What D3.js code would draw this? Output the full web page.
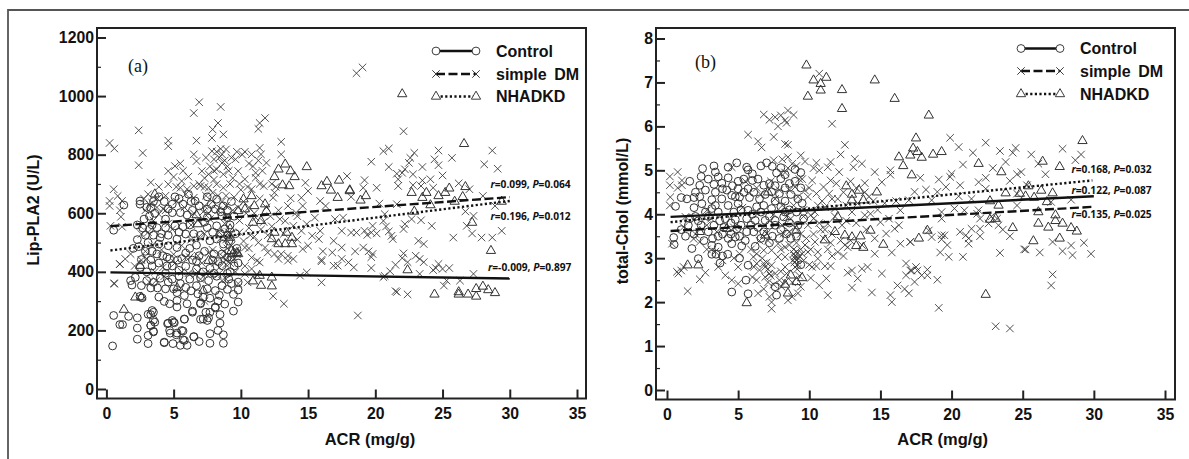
<!DOCTYPE html>
<html>
<head>
<meta charset="utf-8">
<script src="https://cdn.jsdelivr.net/npm/d3@7"></script>
<style>
html, body { margin: 0; padding: 0; background: #fff; }
svg { display: block; }
</style>
</head>
<body>
<svg id="chart" width="1189" height="459"></svg>
<script>
// values: [ACR, y]
const aControl = [[0.46,147],[0.54,251],[1,220],[1.2,220],[1.65,248],[2.3,243],[2.3,208],[2.3,170],[3.1,255],[3.4,268],[3.6,228],[3.3,217],[3.5,195],[3.1,183],[3.1,155],[4.3,158],[4.9,234],[4.55,223],[4.7,200],[4.75,191],[5.05,226],[4.95,155],[5.25,191],[5.7,198],[5.8,238],[5.5,149],[5.8,166],[6,149],[6.5,178],[6.4,262],[7,238],[7.5,234],[7.7,262],[8.1,277],[1.3,628],[2.5,642],[2.5,631],[3.3,619],[3.9,656],[5.1,656],[6.1,665],[6.6,642],[7.5,656],[8.2,648],[8.7,625],[2.8,580],[4.4,580],[4.9,631],[5.7,631],[6.4,610],[4.9,602],[5.5,602],[6,594],[7.5,614],[8.1,614],[8.6,591],[7.5,585],[0.54,542],[3.76,551],[4.4,551],[5.1,557],[5.7,554],[7.5,551],[8.2,557],[8.8,546],[2.3,510],[3.1,500],[4,517],[4.6,489],[5.25,512],[5.9,529],[6.7,491],[7.7,506],[8.2,512],[8.7,495],[2.4,486],[2.6,442],[3.76,461],[5.25,483],[5.9,464],[6.9,455],[8,461],[8.6,461],[6.7,436],[2.5,415],[5.9,419],[6.7,410],[7.7,412],[8.6,421],[2.15,381],[1.8,370],[1.9,355],[2.6,353],[3.5,364],[4,378],[4.4,342],[3.9,314],[4.3,299],[4.7,291],[5,342],[5.25,329],[5.25,302],[5.25,280],[5.8,319],[6,291],[5.9,347],[7,291],[7.2,313],[6.7,353],[7.5,342],[8.1,336],[8.6,353],[2.65,311],[2.5,316],[9.45,266],[9.8,297],[9.8,338],[9.45,323],[8.45,254],[8.45,225],[8.7,156],[8.7,185],[8.3,200],[8.1,280],[7.7,156],[7.7,189],[7.6,243],[6.9,162],[7.2,239],[7.4,262],[7,294],[6.4,266],[6.5,179],[5.6,200],[5.7,168],[5.2,185],[5.8,239],[5,228],[4.6,225],[4.3,160],[3.3,254],[3.5,262],[3.5,235],[3.3,217],[3.5,197],[9.3,640],[9,610],[9.5,590],[9.2,560],[9.6,530],[9.1,505],[9.7,480],[9.3,450],[9.8,430],[9.2,400],[9.8,365],[9.1,375],[3.2,590],[3.6,600],[3.2,545],[2.9,525],[3.5,525],[3.9,495],[3.4,470],[3.9,430],[4.5,450],[4.9,420],[5.3,440],[4.4,395],[4.9,375],[5.4,385],[6.2,375],[7,380],[7.6,370],[8.2,385],
[3,620],[3.5,640],[4.3,640],[4.6,615],[5.4,650],[6.3,640],[6.9,625],[7.8,630],[8.5,605],[9,585],[2.3,560],[2.7,550],[3.4,560],[4.1,530],[4.6,525],[5.4,535],[6.2,560],[6.5,530],[7,525],[7.3,570],[7.9,535],[8.5,530],[9,525],[2,480],[2.9,470],[3.3,440],[4.2,455],[4.7,445],[5.6,445],[6.2,480],[7.3,470],[7.9,440],[8.3,435],[9,450],[9.5,420],[3,400],[3.4,420],[4.5,420],[5.4,405],[6.4,440],[7.2,400],[8,395],[9,395],[3,370],[3.3,345],[3.8,345],[4.6,365],[5.5,360],[6.3,335],[6.8,325],[7.7,310],[8.4,320],[9,340],[9.3,360],[8.8,290],[8.3,300]];
const aSimpleDM = [[18.6,1078],[19.05,1098],[22.1,880],[20.6,812],[21,821],[19.7,776],[21,758],[21.6,735],[22,738],[21.7,716],[21.7,693],[22.6,789],[22.5,772],[22.9,806],[22.2,750],[23.5,758],[22.8,733],[24.4,784],[24.7,814],[24.7,764],[25.7,789],[25,729],[28.1,767],[28.7,814],[29.1,752],[23.5,712],[24.1,716],[22.8,696],[23.4,693],[26.2,702],[27,682],[24.3,687],[19.2,713],[19.1,687],[20.1,687],[18.2,656],[20.3,633],[21.6,631],[28,659],[28.9,625],[26.7,606],[27.3,591],[26.8,557],[27.2,531],[25.8,517],[27.9,517],[28.7,517],[29.4,540],[24.2,557],[23.4,576],[22.7,580],[22.2,563],[22.1,546],[20.7,597],[20.6,574],[20.8,555],[19.8,557],[19.7,534],[19.2,540],[18.6,534],[20.1,531],[19.4,526],[21,538],[21.2,523],[21.3,512],[23.2,506],[23.6,495],[18.5,470],[19.1,483],[19.5,470],[19.8,461],[19.7,450],[18.4,415],[19.7,413],[22.1,463],[22,447],[23,455],[23.3,444],[23.6,433],[21.5,424],[21.1,402],[20.6,382],[22.4,433],[23.3,393],[24.3,406],[24.7,427],[25,410],[25.5,413],[24.5,413],[27.3,393],[26.3,370],[25.3,370],[25.1,353],[21.6,331],[22.4,323],[18.7,251],
[0.24,840],[0.59,821],[2.4,883],[2.7,806],[2.4,764],[4.6,848],[4.6,829],[6.5,942],[6.9,979],[8.5,963],[8.3,908],[7.9,886],[7.85,857],[8.7,869],[6.7,848],[6.5,801],[6.7,778],[5.1,761],[4.6,744],[5,724],[4.6,699],[0.54,682],[0.84,659],[0.24,642],[0.24,625],[1.16,642],[1,610],[1.08,588],[3.1,665],[3.4,636],[3.76,620],[3.9,597],[0.3,557],[1.16,554],[2.5,557],[2.6,529],[1.8,461],[1.4,444],[1,427],[0.59,359],[5.5,687],[6,682],[6.5,693],[7.1,744],[7.6,733],[7.85,812],[8,784],[8.2,750],[8.6,801],[8.6,772],[8.7,733],[8.2,699],[8.7,687],[7.6,687],[7,693],[6.5,653],
[11.8,925],[11.4,908],[11.3,888],[13,844],[13,801],[10.3,810],[10.8,801],[11.4,823],[11.5,801],[11.9,772],[9.6,784],[8.9,818],[11.1,738],[11.1,721],[9.8,744],[10.3,716],[11.7,693],[10.8,682],[17.9,727],[14.8,704],[15,676],[14.5,653],[13.7,651],[12.5,670],[12.4,653],[14.6,625],[15.9,642],[16.3,625],[12.9,580],[13.3,574],[14.1,602],[15.5,585],[14.9,563],[13.9,557],[17,580],[17.6,585],[17.5,540],[18.2,534],[16.9,506],[17.5,483],[15.3,523],[15.9,540],[15.8,512],[15,489],[14.6,478],[16.1,470],[16.8,466],[17.5,444],[16.9,421],[17.2,421],[18,432],[16,436],[16,441],[12,466],[12.5,461],[13,461],[13.5,455],[13.9,444],[12.8,444],[13.5,438],[10.8,449],[11.2,438],[11.4,432],[14.4,387],[14.9,398],[16,364],[12.4,317],[13.2,291],[10.3,483],[11.8,483],[10.3,393],[9.6,472],[10.5,364],[0.57,361],[1,426],[7.3,300],[20.7,386],[21.5,334],
[3.3,705],[3.9,690],[4.4,660],[2.9,610],[3.5,575],[4.2,615],[5.2,640],[5.8,620],[6.3,560],[7.3,625],[7.9,640],[8.3,610],[8.9,660],[9.2,700],[9.5,655],[10,680],[10.2,640],[10.6,620],[11,600],[11.4,650],[11.9,620],[12.2,590],[9.9,575],[10.6,550],[11,520],[11.5,545],[12,525],[10.2,505],[8.9,590],[8.4,535],[7.3,530],[6.8,575],[6.2,450],[5.6,490],[4.9,545],[4.1,475],[3.4,490],[3,445],[3.6,400],[4.2,415],[5,460],[6.1,395],[7.1,430],[7.9,475],[8.9,440],[9.1,535],[9.4,610],[8.5,515],[8.7,470],[9,480],[9.3,490],[9.5,445],[8.3,390],[8.9,375],[6.6,390],[6.8,400],[7,375],[7.4,395],[5.5,770],[8.2,810],[9.1,745],[9.4,720],[8,715],[7.4,790],[7.4,660],[6.1,725],[5.7,745],[7.3,720],[8.9,625],[7.6,600],[6.5,600],[4.6,565],[3.1,535],
[6.9,700],[7.3,690],[7.7,760],[8,745],[8.4,790],[8.5,820],[8.8,780],[9,760],[9.3,790],[9.7,810],[10.1,800],[10.6,770],[10.9,760],[11.3,780],[11.6,745],[9.9,700],[10.5,690],[11.4,700],[12.3,700],[12.6,690],[8.3,660],[7.9,670],[8.6,640],[9.8,620],[10.4,600],[11.1,585],[11.7,570],[12.3,555],[12.8,610],[13.5,625],[14.2,590],[13.2,530],[14.5,540],[14.2,510],[10.6,480],[11.3,500],[10.7,525],[12.6,500],[9.9,535],[9.1,590],[8.8,565],[7.7,580],[7.2,605],[5.9,665],[5.2,690],[5.6,710],[4.4,610],[3.8,650],[2.8,650],[3.2,630],[2.9,470],[2.6,440],[2.1,420],[3.2,365],[3.7,370],[4.3,385],[5.6,400],[6.8,455],[7.7,395],[8.1,430],[8.4,415],[8.6,370],[9.6,400],[10.3,420],[10.8,410],[11.2,390],[9.8,360],[5.9,450],[5.1,430],[6.3,510],[6.9,520],[7.6,465],[8.9,510],[9.3,515],[9.1,455],[9.7,460],[8.7,450],[8.9,425],[9.2,430]];
const aNhadkd = [[22,1007],[26.6,837],[18.1,676],[18.9,644],[19.3,659],[22.7,670],[23.8,670],[23.5,653],[24.7,659],[25.2,670],[25.5,685],[26.7,690],[24.1,628],[25.9,640],[26.5,656],[29.4,640],[22.9,606],[27.2,568],[28.6,472],[22.4,406],[24.4,323],[26.2,331],[26.2,323],[26.9,323],[27.5,316],[27.5,342],[28,350],[28.4,338],[28.9,328],
[14.9,758],[12.8,750],[13.3,767],[13.7,744],[12.5,724],[14,724],[13.1,696],[13.6,693],[16,693],[16.4,708],[16.7,678],[17.3,712],[17.2,653],[18.1,679],[10.8,659],[11,625],[11.8,631],[11.9,608],[10.9,568],[11.5,574],[9.8,608],[10.3,614],[10.2,648],[12.5,534],[13.4,534],[13.8,517],[12.3,512],[12.8,495],[13.3,495],[13.8,495],[9.2,546],[9.2,517],[9.4,461],[9.8,461],[11.4,387],[10.9,368],[11.5,353],[12.3,381],[12.3,351],[9.3,472],[1.3,271],[2.15,313],[2.6,313],[3.6,665],[6.7,594],[6.8,563],[7.2,336],[7.6,438],[2.5,421],[5.26,345],[9.7,465]];

const bControl = [[1.6,4.75],[1,4.38],[0.6,4.18],[2.5,5.04],[3.3,5.1],[3.4,4.96],[2.4,4.86],[4.3,5.07],[4.9,5.17],[5.6,5.07],[5.7,5.01],[6.6,5.1],[7,5.17],[7.4,5.09],[8,5.06],[7.7,4.94],[4.3,4.83],[5,4.75],[3.3,4.68],[2.3,4.66],[1.9,4.38],[2.7,4.55],[3.85,4.71],[6,4.92],[6,4.77],[6.8,4.66],[8,4.81],[7.2,4.7],[3.15,4.33],[3.9,4.58],[5,4.58],[5.7,4.58],[2.45,4.24],[3.15,4.13],[3.85,4.35],[4.55,4.43],[5.1,4.39],[5.8,4.38],[6.5,4.35],[7.35,4.51],[7.9,4.47],[3.6,4.05],[4.3,4.2],[5,4.24],[5.7,4.09],[6.3,4.17],[6.8,4.2],[7.35,4.13],[8,4.17],[4.1,3.9],[4.8,3.88],[5.6,3.9],[6.2,3.86],[6.9,3.86],[7.6,3.86],[8.2,3.94],[3.3,3.75],[4,3.7],[4.9,3.67],[5.6,3.6],[6.1,3.6],[6.8,3.6],[7.6,3.75],[1.3,3.5],[0.47,3.47],[0.5,3.31],[1.75,3.22],[2.2,2.99],[3.15,3.29],[3.15,3.09],[3.45,3.09],[4.27,3.09],[3.73,2.89],[4.55,3.33],[5.25,3.28],[6.2,3.27],[5.1,3],[5.7,2.84],[5.55,2.5],[4.55,2.23],[5.7,2.19],[7.6,2.35],[7.7,2.16],[4.8,3.48],[8.3,4.9],[8.6,4.7],[9,5.02],[9,4.75],[9.4,4.95],[9.4,4.6],[8.7,4.45],[9.2,4.35],[8.6,4.1],[9.1,4.05],[9.5,4.25],[8.6,3.8],[9.2,3.75],[9.6,3.9],[8.7,3.45],[9.1,3.5],[9.4,2.85],[8.4,3.55],[7.2,3.35],[7.9,3.45],[2.4,3.75],[2.9,3.6],[3.6,3.5],[2.9,3.95],[2,3.95],[1.6,3.9],[4.3,3.45],[5.1,3.5],
[2,4.5],[2.9,4.8],[3.6,4.85],[4.6,4.65],[5.4,4.8],[6.4,4.8],[7.6,4.65],[8.3,4.6],[1.4,4.35],[2.3,4.4],[3.4,4.5],[4.2,4.55],[4.8,4.4],[5.4,4.5],[6.1,4.5],[6.9,4.45],[7.6,4.3],[8.3,4.3],[1.9,4.15],[2.7,4.05],[3.4,4.2],[4.7,4.05],[5.2,4.1],[6,4],[6.6,4.05],[7.2,3.95],[8.3,4.05],[1.5,3.75],[2.2,3.85],[3.7,3.85],[4.5,3.8],[5.2,3.75],[5.9,3.75],[6.4,3.7],[7.2,3.75],[8,3.65],[1,3.65],[1.9,3.55],[3.2,3.45],[3.9,3.55],[4.5,3.55],[5.5,3.4],[6.6,3.45],[7.4,3.5],[2.6,3.4],[3.6,3.25],[3.9,3.05]];
const bSimpleDM = [[19.9,5.74],[20.5,5.53],[22.4,5.63],[21.5,5.4],[23.4,5.44],[24.3,5.4],[24.5,5.51],[25.6,5.36],[27.8,5.49],[29.1,5.36],[28.7,5.23],[23.8,5.19],[26.1,5.15],[20.8,5.13],[22.9,5.05],[26.6,4.91],[24.9,4.96],[24.6,4.91],[20,4.92],[19.9,4.85],[17.8,4.83],[22.4,4.83],[21.9,4.73],[19.1,4.79],[20.6,4.66],[19.6,4.62],[24.1,4.76],[25.3,4.66],[22.4,4.58],[18.2,4.56],[19,4.51],[17.4,4.51],[20.5,4.41],[24.6,4.47],[17,4.32],[18.6,4.32],[21.4,4.35],[20.2,4.13],[20.9,4.09],[19.3,4.05],[19.3,3.9],[21.9,4.09],[21.8,4.01],[22,3.9],[22.8,3.95],[23.2,3.9],[22.6,3.79],[23.3,3.75],[23.6,3.65],[24.1,3.5],[24.6,4.2],[28.4,4.33],[27,4.28],[18.4,3.63],[18.6,3.48],[19.3,3.52],[19.5,3.52],[19.3,3.43],[20.6,3.6],[21,3.52],[21.2,3.45],[21.2,3.33],[21.4,3.67],[22,3.67],[22,3.5],[19.7,3.3],[19.2,3.13],[19.8,3.03],[20.8,3.03],[23.4,3.12],[17.1,3.37],[25.1,3.2],[25.2,3.2],[26.2,3.13],[27.1,3.37],[27.8,3.16],[28.4,3.29],[28.5,3.07],[29.3,3.35],[29.8,3.1],[17.5,2.8],[17.1,2.72],[17.6,2.72],[18.3,2.74],[17.9,2.61],[18.3,2.61],[17.4,2.46],[19,2.51],[17,2.2],[27.1,2.63],[27,2.38],[19.1,1.87],[23.1,1.45],[24.1,1.4],
[10.7,7.2],[8.5,6.36],[8.9,6.26],[8.4,6.08],[11.6,6.06],[12.5,5.58],[8.5,5.58],[12.2,5.36],[9.4,5.34],[9.7,5.2],[8.5,5.3],[10.5,5.17],[11.5,5.19],[11.3,5.07],[10.7,5],[12.1,4.96],[13.2,5.26],[13.7,5.15],[13.1,5.07],[14.6,4.96],[15.7,5],[15.7,4.9],[13.9,4.71],[15.1,4.73],[10.2,4.77],[11.5,4.77],[11,4.62],[9.7,4.54],[10.5,4.47],[11.4,4.47],[12,4.35],[9,4.62],[16.4,4.09],[16.3,3.75],[16,3.67],[15.4,3.56],[15,3.82],[16.4,3.33],[17.1,3.37],[15.8,3.13],[16.8,2.88],[17.2,2.72],[16.8,2.61],[15.1,2.65],[12.7,2.67],[13,2.72],[13.4,2.54],[13.7,2.76],[14.1,2.8],[11.5,2.82],[11.1,2.82],[10.5,2.82],[11.2,2.54],[10.7,2.38],[11.3,2.16],[13,2.33],[14.4,2.22],[15.7,2.16],[16.2,2.38],[15.8,2],[16.7,2.3],[10.6,3.14],[9.9,3.14],[10.4,3.37],[11.3,3.2],[12,3.14],[12.7,3.25],[10.6,2.99],[9.2,2.2],[8.8,2.12],[8.5,2.04],[11.3,3.78],[10.6,4.2],[10.1,3.98],[11.1,4.16],[11.8,4.13],[13.9,3.98],[14.3,4.01],
[0.2,4.86],[0.75,4.96],[0.2,4.66],[0.75,4.6],[1.05,4.77],[0.23,4.39],[0.2,4.2],[1.05,4.66],[6.8,6.27],[7.2,6.15],[7.6,6.21],[8,6.25],[7.8,6],[8.3,6.14],[5.7,5.81],[6.4,5.66],[6.65,5.52],[7.5,5.76],[8.3,5.6],[7.5,5.23],[4.55,5.07],[0.35,3.33],[0.7,2.69],[1,2.72],[0.8,2.65],[1.17,2.8],[2.7,2.67],[2.3,2.52],[1.45,2.25],[3.6,2.8],[4.1,2.61],[4.55,2.5],[5,2.42],[5,2.8],[6.07,3.03],[6.3,2.88],[6.5,2.73],[6.9,2.57],[7.35,2.84],[7.6,2.65],[6.8,2.88],[7.2,2.65],[6.3,2.5],[6,2.57],[7.35,2],[7.35,1.85],[7.2,2.12],[8.05,2.35],[8.3,2.46],[7.9,2.5],[8.3,2.8],[7.8,3.03],[8.3,3.03],[1.17,3.71],[1.3,3.94],[2.8,4.09],[1.87,3.44],[2.3,3.37],[3.5,3.6],[2.8,3.75],[6.3,3.1],[6.8,3.18],[7.35,3.18],[7.8,3.33],[8.3,3.25],[8.2,3.56],[7,3.56],
[8.9,3.1],[9,3],[9.1,2.95],[8.95,2.9],[9.2,2.85],[9.1,3.15],[9.3,3.05],[9,2.8],[9.4,3.2],[9.6,2.95],[9.7,3.3],[10,2.85],[10.2,2.8],[7.1,2.75],[7,2.9],[7.3,2.6],[6.9,2.8],[8.5,5.05],[8.8,5.15],[9.3,4.8],[8.6,4.55],[7.6,4.35],[8.9,4.2],[7.3,4.75],[9.9,4.4],[9.6,4.1],[10.3,3.9],[8.7,3.9],[7.5,4],[9.9,3.75],[10.8,3.65],[11.6,3.55],[12.3,3.75],[8.6,3.6],[9.4,3.55],[9.8,3.45],[10.1,3.2],[11,3.45],[6.6,4.45],[5.3,4.15],[4.7,3.7],[5.9,3.2],[6.5,3.4],[3.1,3.9],[2,3.55],[12.6,4.2],[13,4.05],[13.4,4.25],[14.8,4.1],[15.3,4.25],[14.2,4.4],[13.3,3.8],[14,3.65],[12.9,3.4],[11.6,3.05],[12.4,3.05],[14.6,3.1],[13.7,3.3],
[5.5,4.75],[6.3,4.6],[8.1,5.25],[8.3,4.95],[9.1,5.1],[9.5,4.8],[10,4.6],[10.9,4.3],[11.6,4.35],[12.4,4.5],[9.2,4.4],[8.1,4.2],[9.6,3.95],[10.4,4.05],[11.8,3.95],[12.6,3.85],[10.7,3.8],[11.1,3.65],[9,3.7],[8.1,3.75],[7.1,3.4],[8,3.2],[8.6,3.3],[9.1,3.35],[10.3,3.55],[11.5,3.35],[12.2,3.4],[12.5,3.3],[14.6,3.45],[15.6,3.9],[16.1,4.3],[14.5,4.3],[13.9,4.5],[12.9,4.75],[13.3,4.6],[11.9,4.7],[10.3,5.05],[7.9,4.55],[8.4,3.95],[5.1,3.1],[4.7,3],[3.9,2.95],[3.4,3.15],[2.8,3.2],[6.1,2.8],[6.7,3],[7.5,2.4],[6.8,2.3],[6.4,2.2],[7.1,2.45],[8.8,2.45],[9.3,2.6],[8.4,2.65],[8,2.7],[9.4,2.35],[10.1,2.55],[8.9,3.2],[9,3.05],[8.85,2.95],[9.25,3],[9.15,2.75],[9.5,3.1]];
const bNhadkd = [[18.4,6.25],[17.5,5.73],[17.3,5.5],[17.6,5.42],[17.1,5.34],[17.9,5.29],[18.7,5.36],[19.3,5.42],[21.9,5.15],[23.5,4.96],[26.4,5.2],[27.6,5.08],[29.2,5.67],[17.2,4.89],[25.4,4.64],[23.8,4.48],[24.8,4.47],[25.2,4.41],[25.8,4.38],[26.3,4.54],[27.1,4.48],[26.7,4.28],[22.7,4.3],[23.3,4.2],[26.1,4.05],[27.3,3.98],[27.3,3.85],[26.1,3.79],[26.8,3.7],[27.8,3.79],[28.4,3.69],[28.8,3.61],[24.3,3.69],[22.7,3.88],[23.1,3.9],[18.3,3.63],[17.7,3.45],[25.75,3.39],[27.6,3.45],[22.4,2.17],
[9.8,7.39],[10.3,7.05],[10.8,6.97],[11.2,7.11],[10.8,6.82],[9.9,6.68],[12.3,6.83],[12.3,6.4],[14.6,7.05],[16,6.63],[16.3,5.3],[16.6,5.1],[12.6,4.64],[13.5,4.54],[13,4.45],[13.8,4.32],[13,4.32],[14.75,4.5],[14.3,3.63],[15.2,3.31],[12,3.94],[13.6,3.5],[13,3.48],[12.5,3.52],[11.1,3.41],[11.8,3.6],[13.3,3.28],[13.8,3.24],[9.1,3.63],[8.7,2.61],[9.5,2.55],[9.1,2.46],[8.3,2.4],[8.5,2.2],[1.45,2.84],[2.2,2.84],[5.6,1.98],[7.1,4.5],[6.9,3.52],[2.3,3.6],[4.2,3.67]];

// fit lines, [x0, y0, x1, y1]
const aLines = { control: [0.3, 398, 30, 377], dm: [0.3, 556, 30, 655], nhadkd: [0.3, 473, 30, 642] };
const bLines = { control: [0.25, 3.94, 30, 4.41], dm: [0.25, 3.62, 30, 4.17], nhadkd: [0.25, 3.82, 29.9, 4.77] };

const xTicks = [0, 5, 10, 15, 20, 25, 30, 35];
const aYTicks = [0, 200, 400, 600, 800, 1000, 1200];
const aYMinor = [100, 300, 500, 700, 900, 1100];
const bYTicks = [0, 1, 2, 3, 4, 5, 6, 7, 8];
const bYMinor = [0.5, 1.5, 2.5, 3.5, 4.5, 5.5, 6.5, 7.5];
const legendNames = ['Control', 'simple DM', 'NHADKD'];

const sans = '"Liberation Sans", Arial, sans-serif';
const svg = d3.select('#chart');

// outer gray box of the figure, no bottom or right side
svg.append('path').attr('d', 'M8,459V10H1189').attr('fill', 'none').attr('stroke', '#555').attr('stroke-width', 1.8);

const markers = {
    control: d3.symbol().type(d3.symbolCircle).size(48)(),
    dm: d3.symbol().type(d3.symbolTimes).size(38)(),
    nhadkd: d3.symbol().type(d3.symbolTriangle2).size(62)()
};
const lineStyle = {
    control: { dash: null, width: 2.4 },
    dm: { dash: '9,3.5', width: 2.4 },
    nhadkd: { dash: '2.2,2.4', width: 2.4 }
};

function drawPoints(g, pts, key, x, y) {
    g.append('g').selectAll('path').data(pts).enter().append('path')
        .attr('d', markers[key])
        .attr('transform', (d) => `translate(${x(d[0])},${y(d[1])})`)
        .attr('fill', 'none')
        .attr('stroke', '#333')
        .attr('stroke-width', key === 'dm' ? 0.85 : 1);
}

function drawPanel(p) {
    const g = svg.append('g').style('font-family', sans).style('fill', '#111');
    const x = d3.scaleLinear().domain([0, 35]).range(p.xRange);
    const y = d3.scaleLinear().domain(p.yDomain).range(p.yRange);

    drawPoints(g, p.dm, 'dm', x, y);
    drawPoints(g, p.nhadkd, 'nhadkd', x, y);
    drawPoints(g, p.control, 'control', x, y);

    ['control', 'dm', 'nhadkd'].forEach((k) => {
        const l = p.lines[k];
        g.append('line')
            .attr('x1', x(l[0])).attr('y1', y(l[1])).attr('x2', x(l[2])).attr('y2', y(l[3]))
            .attr('stroke', '#111').attr('stroke-width', lineStyle[k].width)
            .attr('stroke-dasharray', lineStyle[k].dash);
    });

    // frame
    g.append('rect')
        .attr('x', p.frame[0]).attr('y', p.frame[1])
        .attr('width', p.frame[2] - p.frame[0]).attr('height', p.frame[3] - p.frame[1])
        .attr('fill', 'none').attr('stroke', '#222').attr('stroke-width', 2);

    // axes, ticks point into the plot
    const xAxis = g.append('g').attr('transform', `translate(0,${p.frame[3]})`)
        .call(d3.axisBottom(x).tickValues(xTicks).tickSize(-9).tickPadding(9));
    const yAxis = g.append('g').attr('transform', `translate(${p.frame[0]},0)`)
        .call(d3.axisLeft(y).tickValues(p.yTicks).tickFormat(d3.format('d')).tickSize(-9).tickPadding(3));
    const yMinor = g.append('g').attr('transform', `translate(${p.frame[0]},0)`)
        .call(d3.axisLeft(y).tickValues(p.yMinor).tickSize(-4).tickFormat(''));
    [xAxis, yAxis, yMinor].forEach((a) => {
        a.select('.domain').remove();
        a.selectAll('line').attr('stroke', '#222').attr('stroke-width', 2);
        a.selectAll('text').attr('font-size', 15.8).attr('font-weight', 'bold').attr('fill', '#111')
            .attr('font-family', sans);
    });
    yMinor.selectAll('line').attr('stroke-width', 1.2);

    g.append('text').attr('x', p.xLabelX).attr('y', 445).attr('text-anchor', 'middle')
        .attr('font-size', 16.5).attr('font-weight', 'bold').text('ACR (mg/g)');
    g.append('text').attr('transform', `translate(${p.yLabelX},${p.yLabelY}) rotate(-90)`)
        .attr('text-anchor', 'middle').attr('font-size', 16).attr('font-weight', 'bold').text(p.yLabel);

    g.append('text').attr('x', p.tag[0]).attr('y', p.tag[1])
        .style('font-family', '"Liberation Serif", serif').attr('font-size', 18).text(p.tagText);

    // legend
    legendNames.forEach((name, i) => {
        const k = ['control', 'dm', 'nhadkd'][i];
        const ly = p.legend.y[i];
        g.append('line').attr('x1', p.legend.x0).attr('x2', p.legend.x1).attr('y1', ly).attr('y2', ly)
            .attr('stroke', '#111').attr('stroke-width', lineStyle[k].width)
            .attr('stroke-dasharray', lineStyle[k].dash);
        [p.legend.x0, p.legend.x1].forEach((mx) => {
            g.append('path').attr('d', markers[k]).attr('transform', `translate(${mx},${ly})`)
                .attr('fill', k === 'dm' ? 'none' : '#fff').attr('stroke', '#333').attr('stroke-width', 0.95);
        });
        g.append('text').attr('x', p.legend.tx).attr('y', ly + 5.5)
            .attr('font-size', 16).attr('font-weight', 'bold')
            .attr('word-spacing', i === 1 ? 3 : 0).text(name);
    });

    // r and P notes
    p.stats.forEach((s) => {
        const t = g.append('text').attr('x', s.x).attr('y', s.y + 3.6)
            .style('font-family', '"Open Sans", sans-serif').attr('font-size', 10.2).attr('font-weight', 'bold');
        t.append('tspan').attr('font-style', 'italic').text('r');
        t.append('tspan').text(`=${s.r}, `);
        t.append('tspan').attr('font-style', 'italic').text('P');
        t.append('tspan').text(`=${s.p}`);
    });
}

drawPanel({
    control: aControl, dm: aSimpleDM, nhadkd: aNhadkd, lines: aLines,
    xRange: [106.4, 577], yDomain: [0, 1200], yRange: [389, 37.5],
    frame: [97, 28, 586, 398.5],
    yTicks: aYTicks, yMinor: aYMinor,
    yLabel: 'Lip-PLA2 (U/L)', yLabelX: 39, yLabelY: 210, xLabelX: 370,
    tag: [128, 72], tagText: '(a)',
    legend: { x0: 436, x1: 476, tx: 496, y: [51, 74, 96.5] },
    stats: [
        { x: 490.5, y: 184, r: '0.099', p: '0.064' },
        { x: 490.5, y: 216.5, r: '0.196', p: '0.012' },
        { x: 488, y: 267, r: '-0.009', p: '0.897' }
    ]
});

drawPanel({
    control: bControl, dm: bSimpleDM, nhadkd: bNhadkd, lines: bLines,
    xRange: [667, 1165], yDomain: [0, 8], yRange: [390, 38.5],
    frame: [656, 28, 1175, 399.5],
    yTicks: bYTicks, yMinor: bYMinor,
    yLabel: 'total-Chol (mmol/L)', yLabelX: 628, yLabelY: 211, xLabelX: 942.6,
    tag: [695, 68], tagText: '(b)',
    legend: { x0: 1021, x1: 1060, tx: 1080, y: [48.5, 71, 94] },
    stats: [
        { x: 1071.5, y: 169, r: '0.168', p: '0.032' },
        { x: 1071.5, y: 190, r: '0.122', p: '0.087' },
        { x: 1071.5, y: 214, r: '0.135', p: '0.025' }
    ]
});
</script>
</body>
</html>
